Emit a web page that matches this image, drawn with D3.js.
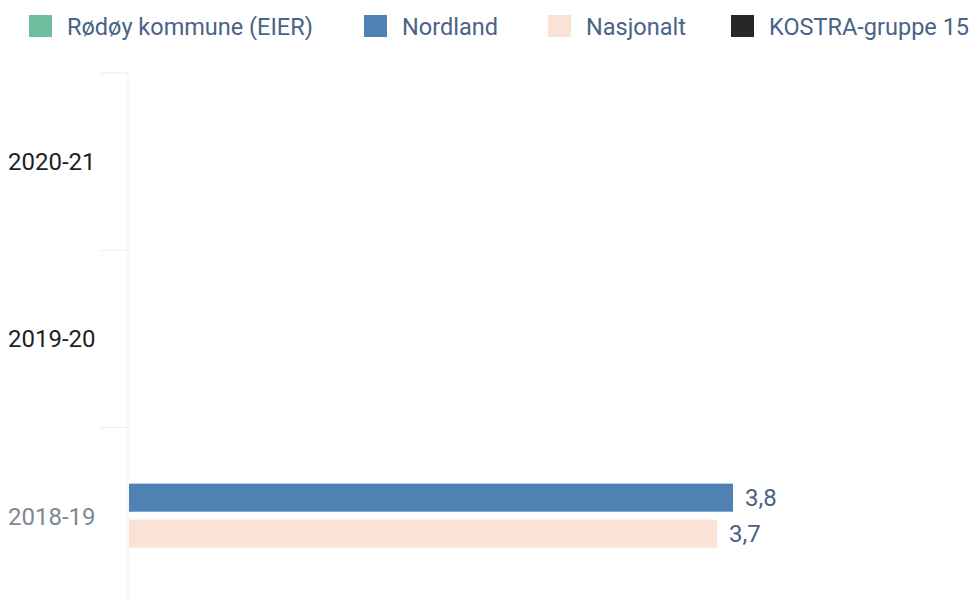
<!DOCTYPE html>
<html>
<head>
<meta charset="utf-8">
<script src="https://cdn.jsdelivr.net/npm/d3@7"></script>
<style>
body { margin: 0; background: #fff; }
svg { display: block; font-family: Roboto, "Noto Sans", sans-serif; }
</style>
</head>
<body>
<svg id="chart" width="979" height="602"></svg>
<script>
// data
var years = ["2020-21", "2019-20", "2018-19"];
var series = ["Rødøy kommune (EIER)", "Nordland", "Nasjonalt", "KOSTRA-gruppe 15"];
var seriesColors = ["#6dbf9f", "#4f82b3", "#fbe2d7", "#262626"];
var labelColors = ["#1f1f1f", "#1f1f1f", "#7d8894"];
// values per series, one per year (null = no data)
var rodoyValues = [null, null, null];
var nordlandValues = [null, null, 3.8];
var nasjonaltValues = [null, null, 3.7];
var kostraValues = [null, null, null];
var allValues = [rodoyValues, nordlandValues, nasjonaltValues, kostraValues];

var svg = d3.select("#chart");

var yScale = d3.scaleBand().domain(years).range([73, 605]);
var innerScale = d3.scaleBand().domain(series).range([16, 160]).paddingInner(0.22).paddingOuter(0.11);
var xScale = d3.scaleLinear().domain([0, 3.8]).range([129, 733]);

//legend
var legendX = [29, 364, 548, 731];
var legend = svg.append("g");
series.forEach(function(s, i){
    legend.append("rect")
        .attr("x", legendX[i])
        .attr("y", 15)
        .attr("width", 23)
        .attr("height", 22)
        .style("fill", seriesColors[i]);
    legend.append("text")
        .attr("x", legendX[i] + 38)
        .attr("y", 27)
        .attr("dy", "0.35em")
        .style("font-size", "23.5px")
        .style("fill", "#4a6387")
        .text(s);
});

//faint axis line and band separators
svg.append("line")
    .attr("x1", 128).attr("x2", 128)
    .attr("y1", 73).attr("y2", 602)
    .style("stroke", "#f1f1f1");

var bounds = years.map(function(y){ return yScale(y); });
svg.selectAll(".sep").data(bounds).enter().append("line")
    .attr("class", "sep")
    .attr("x1", 101).attr("x2", 128)
    .attr("y1", function(d){ return d; })
    .attr("y2", function(d){ return d; })
    .style("stroke", "#ebebeb");

//category labels
svg.selectAll(".cat").data(years).enter().append("text")
    .attr("class", "cat")
    .attr("x", 8)
    .attr("y", function(d){ return yScale(d) + yScale.bandwidth() / 2; })
    .attr("dy", "0.35em")
    .style("font-size", "24px")
    .style("fill", function(d, i){ return labelColors[i]; })
    .text(function(d){ return d; });

//bars and value labels
series.forEach(function(s, si){
    years.forEach(function(y, yi){
        var v = allValues[si][yi];
        if (v == null) return;
        var by = yScale(y) + innerScale(s);
        svg.append("rect")
            .attr("x", xScale(0))
            .attr("y", by)
            .attr("width", xScale(v) - xScale(0))
            .attr("height", innerScale.bandwidth())
            .style("fill", seriesColors[si]);
        svg.append("text")
            .attr("x", xScale(v) + 12)
            .attr("y", by + innerScale.bandwidth() / 2)
            .attr("dy", "0.35em")
            .style("font-size", "24px")
            .style("fill", "#4b5f82")
            .text(d3.format(".1f")(v).replace(".", ","));
    });
});
</script>
</body>
</html>
